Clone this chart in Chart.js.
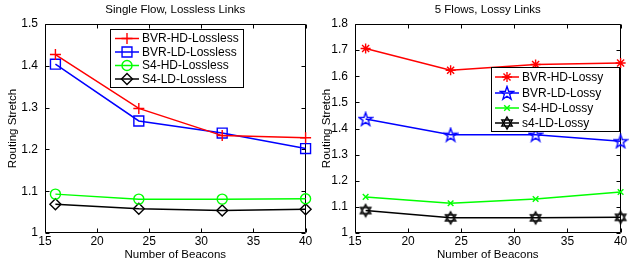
<!DOCTYPE html>
<html>
<head>
<meta charset="utf-8">
<script src="https://cdn.jsdelivr.net/npm/chart.js@4/dist/chart.umd.min.js"></script>
<style>
  html, body { margin: 0; padding: 0; background: #fff; }
  #wrap { position: relative; width: 629px; height: 262px; overflow: hidden; }
  canvas { position: absolute; top: 0; }
  #left { left: 0; }
  #right { left: 314px; }
</style>
</head>
<body>
<div id="wrap">
  <canvas id="left" width="314" height="262"></canvas>
  <canvas id="right" width="315" height="262"></canvas>
</div>
<script>
const beacons = [16, 24, 32, 40];
const xTicks = [15, 20, 25, 30, 35, 40];
const yTicksLossless = [1, 1.1, 1.2, 1.3, 1.4, 1.5];
const yTicksLossy = [1, 1.1, 1.2, 1.3, 1.4, 1.5, 1.6, 1.7, 1.8];

// Single Flow, Lossless Links
const losslessLabels = ["BVR-HD-Lossless", "BVR-LD-Lossless", "S4-HD-Lossless", "S4-LD-Lossless"];
const bvrHdLossless = [1.427, 1.298, 1.233, 1.228];
const bvrLdLossless = [1.404, 1.268, 1.239, 1.202];
const s4HdLossless = [1.093, 1.081, 1.081, 1.082];
const s4LdLossless = [1.069, 1.058, 1.054, 1.057];

// 5 Flows, Lossy Links
const lossyLabels = ["BVR-HD-Lossy", "BVR-LD-Lossy", "S4-HD-Lossy", "s4-LD-Lossy"];
const bvrHdLossy = [1.706, 1.623, 1.645, 1.651];
const bvrLdLossy = [1.436, 1.376, 1.376, 1.351];
const s4HdLossy = [1.138, 1.114, 1.130, 1.157];
const s4LdLossy = [1.086, 1.058, 1.058, 1.060];

Chart.defaults.font.family = "'Liberation Sans', Arial, Helvetica, sans-serif";
Chart.defaults.color = "#000";

function markerCanvas(kind, color) {
  const c = document.createElement("canvas");
  c.width = 16;
  c.height = 16;
  const g = c.getContext("2d");
  g.strokeStyle = color;
  g.lineWidth = 1.4;
  g.lineJoin = "miter";
  g.beginPath();
  if (kind === "pentagram") {
    const R = 7, r = 2.8;
    for (let i = 0; i < 10; i++) {
      const rad = (i % 2 ? r : R);
      const a = -Math.PI / 2 + (i * Math.PI) / 5;
      const px = 8 + rad * Math.cos(a), py = 8.5 + rad * Math.sin(a);
      i ? g.lineTo(px, py) : g.moveTo(px, py);
    }
    g.closePath();
  } else {
    const R = 6;
    for (let t = 0; t < 2; t++) {
      for (let i = 0; i < 3; i++) {
        const a = (t ? Math.PI / 2 : -Math.PI / 2) + (i * 2 * Math.PI) / 3;
        const px = 8 + R * Math.cos(a), py = 8 + R * Math.sin(a);
        i ? g.lineTo(px, py) : g.moveTo(px, py);
      }
      g.closePath();
    }
  }
  g.stroke();
  return c;
}

function series(label, values, color, pointStyle, radius) {
  return {
    label,
    data: beacons.map((b, i) => ({ x: b, y: values[i] })),
    borderColor: color,
    backgroundColor: "rgba(0,0,0,0)",
    pointBorderColor: color,
    pointBackgroundColor: "rgba(0,0,0,0)",
    pointStyle,
    pointRadius: radius,
    pointBorderWidth: 1.4,
    borderWidth: 1.5,
    tension: 0,
    clip: false,
  };
}

// box with inward tick marks, like the original figure
const boxAxes = {
  id: "boxAxes",
  beforeDatasetsDraw(chart) {
    const { ctx, chartArea: a, scales } = chart;
    const l = Math.round(a.left) + 0.5, r = Math.round(a.right) - 0.5;
    const t = Math.round(a.top) + 0.5, b = Math.round(a.bottom) - 0.5;
    ctx.save();
    ctx.strokeStyle = "#000";
    ctx.lineWidth = 1;
    ctx.beginPath();
    ctx.rect(l, t, r - l, b - t);
    scales.x.ticks.forEach((tk) => {
      const px = Math.round(scales.x.getPixelForValue(tk.value)) + 0.5;
      ctx.moveTo(px, b); ctx.lineTo(px, b - 4);
      ctx.moveTo(px, t); ctx.lineTo(px, t + 4);
    });
    scales.y.ticks.forEach((tk) => {
      const py = Math.round(scales.y.getPixelForValue(tk.value)) + 0.5;
      ctx.moveTo(l, py); ctx.lineTo(l + 4, py);
      ctx.moveTo(r, py); ctx.lineTo(r - 4, py);
    });
    ctx.stroke();
    ctx.restore();
  },
  afterDatasetsDraw(chart, args, opts) {
    const { ctx } = chart;
    const lg = opts.legend;
    ctx.save();
    ctx.fillStyle = "#fff";
    ctx.fillRect(lg.x, lg.y, lg.w, lg.h);
    ctx.strokeStyle = "#000";
    ctx.lineWidth = 1;
    ctx.strokeRect(lg.x + 0.5, lg.y + 0.5, lg.w, lg.h);
    ctx.font = "12px 'Liberation Sans', Arial, sans-serif";
    ctx.textBaseline = "middle";
    chart.data.datasets.forEach((ds, i) => {
      const y = lg.rows[i];
      ctx.strokeStyle = ds.borderColor;
      ctx.lineWidth = 1.5;
      ctx.beginPath();
      ctx.moveTo(lg.lineX0, y);
      ctx.lineTo(lg.lineX1, y);
      ctx.stroke();
      const mx = (lg.lineX0 + lg.lineX1) / 2;
      if (ds.pointStyle instanceof HTMLCanvasElement) {
        ctx.drawImage(ds.pointStyle, mx - 8, y - 8);
      } else {
        ctx.fillStyle = "rgba(0,0,0,0)";
        ctx.lineWidth = 1.4;
        Chart.helpers.drawPoint(ctx, { pointStyle: ds.pointStyle, radius: ds.pointRadius, rotation: 0, borderWidth: 1.4 }, mx, y);
      }
      ctx.fillStyle = "#000";
      ctx.fillText(ds.label, lg.textX, y + 0.5);
    });
    ctx.restore();
  },
  afterDraw(chart, args, opts) {
    const { ctx, chartArea: a } = chart;
    ctx.save();
    ctx.fillStyle = "#000";
    ctx.font = "11.5px 'Liberation Sans', Arial, sans-serif";
    ctx.textAlign = "center";
    ctx.textBaseline = "middle";
    ctx.fillText(opts.title, (a.left + a.right) / 2, 10);
    ctx.restore();
  },
};

function makeChart(id, datasets, yTicks, yMax, axisLeft, padRight, title, legend) {
  new Chart(document.getElementById(id), {
    type: "line",
    data: { datasets },
    options: {
      responsive: false,
      animation: false,
      layout: { padding: { top: 24, right: padRight, left: 0, bottom: 0 } },
      plugins: {
        legend: { display: false },
        tooltip: { enabled: false },
        boxAxes: { title, legend },
      },
      scales: {
        x: {
          type: "linear",
          min: 15,
          max: 40,
          grid: { display: false, drawTicks: false },
          border: { display: false },
          afterBuildTicks: (s) => { s.ticks = xTicks.map((v) => ({ value: v })); },
          afterFit: (s) => { s.height = 29; },
          ticks: { font: { size: 12 }, padding: 1, maxRotation: 0, autoSkip: false },
          title: { display: true, text: "Number of Beacons", font: { size: 11.5 }, padding: { top: 0, bottom: 0 } },
        },
        y: {
          min: 1,
          max: yMax,
          grid: { display: false, drawTicks: false },
          border: { display: false },
          afterBuildTicks: (s) => { s.ticks = yTicks.map((v) => ({ value: v })); },
          afterFit: (s) => { s.width = axisLeft; },
          ticks: { font: { size: 12 }, padding: 7, callback: (v) => String(v) },
          title: { display: true, text: "Routing Stretch", font: { size: 11.5 }, padding: { top: 6, bottom: 0 } },
        },
      },
    },
    plugins: [boxAxes],
  });
}

makeChart(
  "left",
  [
    series(losslessLabels[0], bvrHdLossless, "#ff0000", "cross", 5.5),
    series(losslessLabels[1], bvrLdLossless, "#0000ff", "rect", 7),
    series(losslessLabels[2], s4HdLossless, "#00ff00", "circle", 5),
    series(losslessLabels[3], s4LdLossless, "#000000", "rectRot", 5.5),
  ],
  yTicksLossless, 1.5, 45, 4, "Single Flow, Lossless Links",
  { x: 110, y: 29, w: 133, h: 58, rows: [38.5, 52, 65.5, 79], lineX0: 115, lineX1: 139, textX: 142 }
);

makeChart(
  "right",
  [
    series(lossyLabels[0], bvrHdLossy, "#ff0000", "star", 5),
    series(lossyLabels[1], bvrLdLossy, "#0000ff", markerCanvas("pentagram", "#0000ff"), 7),
    series(lossyLabels[2], s4HdLossy, "#00ff00", "crossRot", 4),
    series(lossyLabels[3], s4LdLossy, "#000000", markerCanvas("hexagram", "#000000"), 6),
  ],
  yTicksLossy, 1.8, 41, 6, "5 Flows, Lossy Links",
  { x: 177, y: 67, w: 128, h: 64, rows: [77, 93, 108, 123], lineX0: 181, lineX1: 205, textX: 208 }
);
</script>
</body>
</html>
